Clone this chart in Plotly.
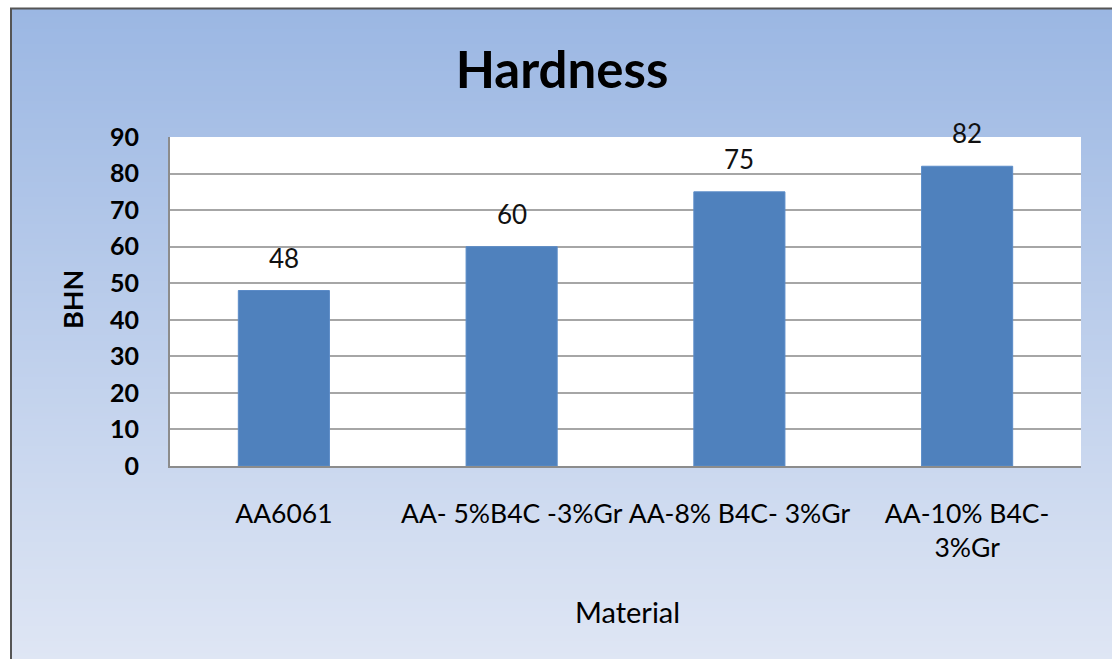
import plotly.graph_objects as go

# Chart data
materials = ["AA6061", "AA- 5%B4C -3%Gr", "AA-8% B4C- 3%Gr", "AA-10% B4C-<br>3%Gr"]
hardness_bhn = [48, 60, 75, 82]
y_tick_values = [0, 10, 20, 30, 40, 50, 60, 70, 80, 90]

FONT = "Lato"
BAR_COLOR = "#4f81bd"
GRID_COLOR = "#a6a6a6"
AXIS_COLOR = "#8c8c8c"

# Figure geometry (pixels)
W, H = 1112, 659
ML, MR, MT, MB = 170, 31, 137, 193
PW, PH = W - ML - MR, H - MT - MB


def paper_x(px):
    return (px - ML) / PW


def paper_y(py):
    return (H - MB - py) / PH


fig = go.Figure()
fig.add_trace(go.Bar(
    x=materials,
    y=hardness_bhn,
    marker=dict(color=BAR_COLOR, line=dict(color="#5b8cc8", width=1)),
    hoverinfo="skip",
))

shapes = []
# Vertical blue gradient behind the chart
top_rgb = (155, 183, 227)
bot_rgb = (223, 230, 244)
y0_px, y1_px, x0_px = 8, H, 11
step = 3
py = y0_px
while py < y1_px:
    t = (py - y0_px) / (y1_px - y0_px)
    c = tuple(round(a + (b - a) * t) for a, b in zip(top_rgb, bot_rgb))
    shapes.append(dict(
        type="rect", xref="paper", yref="paper", layer="below",
        x0=paper_x(x0_px), x1=paper_x(W + 2),
        y0=paper_y(min(py + step + 1, y1_px + 2)), y1=paper_y(py),
        fillcolor="rgb(%d,%d,%d)" % c, line=dict(width=0),
    ))
    py += step

# White plotting area
shapes.append(dict(
    type="rect", xref="x domain", yref="y domain", layer="below",
    x0=0, x1=1, y0=0, y1=1, fillcolor="white", line=dict(width=0),
))
# Outer frame (left and top edges)
shapes.append(dict(
    type="line", xref="paper", yref="paper",
    x0=paper_x(11), x1=paper_x(11), y0=paper_y(8), y1=paper_y(H + 2),
    line=dict(color="#555555", width=2),
))
shapes.append(dict(
    type="line", xref="paper", yref="paper",
    x0=paper_x(10), x1=paper_x(W + 2), y0=paper_y(8.5), y1=paper_y(8.5),
    line=dict(color="#555555", width=2),
))

# Axis titles
annotations = [
    dict(text="<b>BHN</b>", x=paper_x(72), y=paper_y(300), xref="paper", yref="paper",
         textangle=-90, showarrow=False, xanchor="center", yanchor="middle",
         font=dict(family=FONT, size=27, color="black")),
    dict(text="Material", x=paper_x(627), y=paper_y(611), xref="paper", yref="paper",
         showarrow=False, xanchor="center", yanchor="middle",
         font=dict(family=FONT, size=29, color="black")),
]
# Value labels above the bars
for m, v in zip(materials, hardness_bhn):
    annotations.append(dict(
        x=m, y=v, xref="x", yref="y", text=str(v), showarrow=False,
        yanchor="bottom", yshift=15,
        font=dict(family=FONT, size=26, color="#111111"),
    ))

fig.update_layout(
    width=W, height=H,
    margin=dict(l=ML, r=MR, t=MT, b=MB, autoexpand=False),
    paper_bgcolor="white",
    plot_bgcolor="white",
    bargap=0.6,
    showlegend=False,
    title=dict(text="<b>Hardness</b>", x=paper_x(562), xanchor="center", xref="paper",
               y=1 - 70 / H, yanchor="middle",
               font=dict(family=FONT, size=51, color="black")),
    shapes=shapes,
    annotations=annotations,
)

fig.update_yaxes(
    range=[0, 90], tickvals=y_tick_values, ticks="",
    showgrid=True, gridcolor=GRID_COLOR, gridwidth=1.5,
    showline=True, linecolor=AXIS_COLOR, linewidth=2,
    zeroline=False, ticklabelstandoff=24,
    tickfont=dict(family=FONT, size=25, color="black", weight="bold"),
)
fig.update_xaxes(
    ticks="", showgrid=False,
    showline=True, linecolor=AXIS_COLOR, linewidth=2,
    ticklabelstandoff=23,
    tickfont=dict(family=FONT, size=26.5, color="black"),
)

fig.write_html("out.html")
